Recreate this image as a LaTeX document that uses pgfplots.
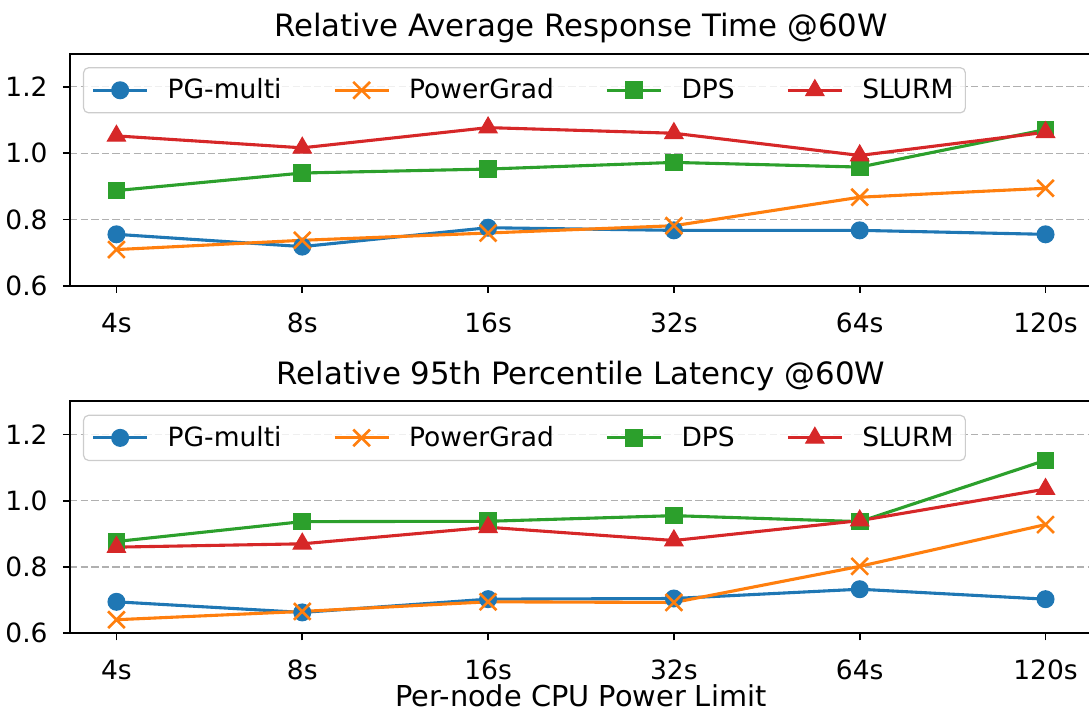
\documentclass[border=0pt]{standalone}
\usepackage{fontspec}
\setmainfont{DejaVu Sans}
\usepackage{pgfplots}
\pgfplotsset{compat=1.18}
\definecolor{cA}{HTML}{1F77B4}
\definecolor{cB}{HTML}{FF7F0E}
\definecolor{cC}{HTML}{2CA02C}
\definecolor{cD}{HTML}{D62728}
\definecolor{gridc}{HTML}{B0B0B0}
\newcommand{\tickfont}{\fontsize{13.25}{15}\selectfont}
\newcommand{\labfont}{\fontsize{14.4}{17}\selectfont}
\newcommand{\titlefont}{\fontsize{15.4}{18}\selectfont}
\pgfplotsset{
  myaxis/.style={
    scale only axis, width=511pt, height=116pt,
    xmin=-0.25, xmax=5.25, ymin=0.6, ymax=1.3,
    xtick={0,1,2,3,4,5}, xticklabels={4s,8s,16s,32s,64s,120s},
    ytick={0.6,0.8,1.0,1.2},
    yticklabel style={/pgf/number format/.cd, fixed, fixed zerofill, precision=1, /tikz/.cd},
    /pgf/number format/assume math mode=true,
    tick align=outside, major tick length=3.5pt,
    xtick pos=left, ytick pos=left,
    tick style={black, line width=0.83pt},
    axis line style={line width=0.83pt},
    ymajorgrids, grid style={gridc, line width=0.6pt, dash pattern=on 3.7pt off 1.6pt},
    every tick label/.append style={font=\tickfont},
    xticklabel style={anchor=base, yshift=-19.7pt, inner sep=0pt, text depth=0pt},
    yticklabel style={anchor=east, xshift=-7.5pt, inner sep=0pt},
    every axis title/.style={font=\titlefont, at={(0.5,1)}, anchor=base, yshift=8.6pt, inner sep=0pt},
    legend columns=4,
    legend style={at={(0,1)}, anchor=north west, xshift=6.5pt, yshift=-6.7pt,
      draw=black!20, line width=0.6pt, rounded corners=2.5pt, fill=white, fill opacity=0.8,
      text opacity=1, draw opacity=1, font=\tickfont, inner xsep=4pt, inner ysep=3.5pt,
      /tikz/every even column/.append style={column sep=23.8pt},
      /tikz/every odd column/.append style={column sep=7.5pt}},
    legend cell align=left,
    legend image code/.code={\draw[fill opacity=1, draw opacity=1, mark repeat=2, mark phase=2, ##1] plot coordinates {(0pt,0pt) (13.5pt,0pt) (27pt,0pt)};},
    every axis plot/.append style={line width=1.55pt},
  },
  sA/.style={cA, mark=*, mark size=4.2pt, mark options={solid, line width=0.6pt}},
  sB/.style={cB, mark=x, mark size=5.9pt, mark options={solid, line width=1.3pt}},
  sC/.style={cC, mark=square*, mark size=4.1pt, mark options={solid, line width=0.6pt}},
  sD/.style={cD, mark=triangle*, mark size=5.2pt, mark options={solid, line width=0.6pt}},
}
\begin{document}
\begin{tikzpicture}
\begin{axis}[myaxis, title={Relative Average Response Time @60W}]
\addplot[sA] coordinates {(0,0.755) (1,0.718) (2,0.775) (3,0.767) (4,0.767) (5,0.755)};
\addlegendentry{PG-multi}
\addplot[sB] coordinates {(0,0.709) (1,0.737) (2,0.759) (3,0.781) (4,0.867) (5,0.894)};
\addlegendentry{PowerGrad}
\addplot[sC] coordinates {(0,0.887) (1,0.940) (2,0.952) (3,0.972) (4,0.958) (5,1.071)};
\addlegendentry{DPS}
\addplot[sD] coordinates {(0,1.052) (1,1.016) (2,1.077) (3,1.060) (4,0.993) (5,1.063)};
\addlegendentry{SLURM}
\end{axis}
\begin{axis}[myaxis, at={(0pt,-173.8pt)}, title={Relative 95th Percentile Latency @60W},
  xlabel={Per-node CPU Power Limit},
  xlabel style={font=\labfont, at={(axis description cs:0.5,0)}, anchor=base, yshift=-36.4pt, inner sep=0pt, text depth=0pt}]
\addplot[sA] coordinates {(0,0.695) (1,0.663) (2,0.703) (3,0.705) (4,0.733) (5,0.703)};
\addlegendentry{PG-multi}
\addplot[sB] coordinates {(0,0.641) (1,0.666) (2,0.695) (3,0.693) (4,0.802) (5,0.928)};
\addlegendentry{PowerGrad}
\addplot[sC] coordinates {(0,0.877) (1,0.937) (2,0.938) (3,0.955) (4,0.937) (5,1.122)};
\addlegendentry{DPS}
\addplot[sD] coordinates {(0,0.860) (1,0.870) (2,0.920) (3,0.880) (4,0.940) (5,1.035)};
\addlegendentry{SLURM}
\end{axis}
\pgfresetboundingbox
\path (-35pt,142.85pt) rectangle (509.5pt,-213.9pt);
\end{tikzpicture}
\end{document}
